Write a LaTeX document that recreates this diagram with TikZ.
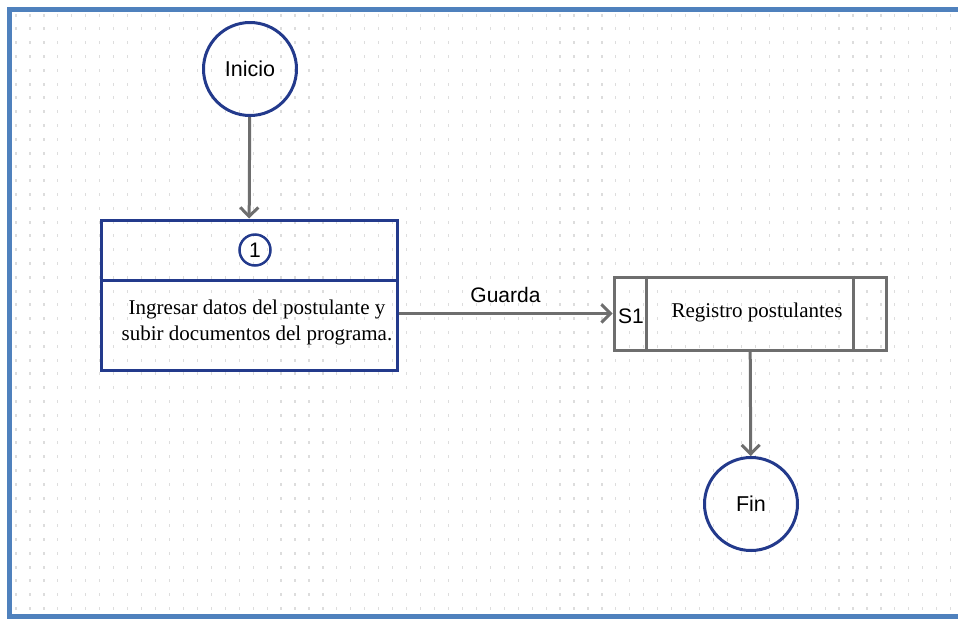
\documentclass[tikz,border=0pt]{standalone}
\usepackage{fontspec}
\setmainfont{Liberation Serif}
\newfontfamily\arial{Liberation Sans}
\usetikzlibrary{arrows.meta}
\definecolor{navy}{HTML}{233A8C}
\definecolor{flowgray}{HTML}{6E6E6E}
\definecolor{framebl}{HTML}{4F81BD}
\definecolor{dotgray}{HTML}{DDDDDD}
\begin{document}
\begin{tikzpicture}[x=1pt,y=-1pt,
    terminal/.style={draw=navy,line width=3pt,circle,minimum size=93pt,inner sep=0pt,font=\arial\fontsize{21.5}{25}\selectfont},
    procbox/.style={draw=navy,line width=3pt,rectangle,minimum width=296pt,inner sep=0pt},
    storebox/.style={draw=flowgray,line width=3pt,rectangle,minimum width=272pt,minimum height=73pt,inner sep=0pt},
    flow/.style={draw=flowgray,line width=3pt,-{Straight Barb[length=9pt,width=18pt]}},
    serif/.style={font=\fontsize{21}{26}\selectfont},
    sans/.style={font=\arial\fontsize{21}{25}\selectfont}]
        \useasboundingbox (0,0) rectangle (958,619);
        \foreach \i in {0,...,67}
          \foreach \j in {0,...,43}
            \fill[dotgray] (16+13.95*\i-0.6,15+13.8*\j-1.5) rectangle ++(1.2,3);
        \draw[framebl,line width=5pt] (958,9.5) -- (9.5,9.5) -- (9.5,616.5) -- (958,616.5);
        \node[terminal] (inicio) at (250,69) {Inicio};
        \node[procbox,minimum height=60pt] (head) at (249,250) {};
        \node[procbox,minimum height=90pt] (body) at (249,325) {};
        \node[draw=navy,line width=2.5pt,circle,minimum size=31pt,inner sep=0pt,sans] (num) at (255,250) {1};
        \node[serif,align=center] (task) at (257,322) {Ingresar datos del postulante y\\subir documentos del programa.};
        \node[storebox] (store) at (750,313.5) {};
        \draw[flowgray,line width=2.5pt] ([xshift=34pt]store.north west) -- ([xshift=34pt]store.south west);
        \draw[flowgray,line width=2.5pt] ([xshift=-34pt]store.north east) -- ([xshift=-34pt]store.south east);
        \node[sans] (s1) at (631,316) {S1};
        \node[serif] (reg) at (757,312) {Registro postulantes};
        \node[terminal] (fin) at (751,504) {Fin};
        \draw[flow] (inicio) -- (head);
        \draw[flow] (store.west -| body.east) -- node[above=6pt,sans]{Guarda} (store.west);
        \draw[flow] (store) -- (fin);
    \end{tikzpicture}
\end{document}
